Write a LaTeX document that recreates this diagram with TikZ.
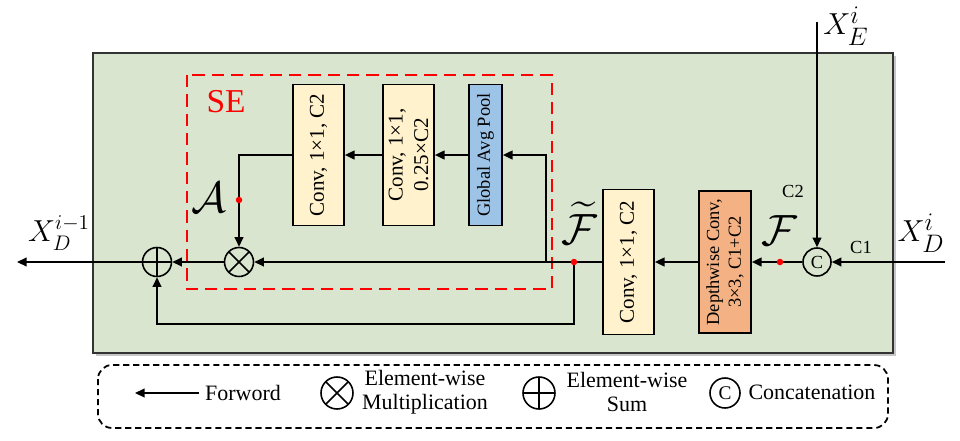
\documentclass[tikz,border=0pt]{standalone}
\usepackage{fontspec}
\setmainfont{Liberation Serif}
\usepackage{amsmath}
\usetikzlibrary{arrows.meta}
\usetikzlibrary{positioning}
\definecolor{blockgreen}{RGB}{217,229,206}
\definecolor{convyellow}{RGB}{255,242,204}
\definecolor{poolblue}{RGB}{157,195,230}
\definecolor{dworange}{RGB}{244,177,131}
\tikzset{
  arr/.style={-{Triangle[length=5.5pt,width=5pt]}, line width=0.9pt},
  convbox/.style={draw, line width=1pt, fill=convyellow, rotate=90, align=center, inner sep=1pt, font=\fontsize{12}{14.5}\selectfont},
  smallbox/.style={convbox, font=\fontsize{10.5}{12.5}\selectfont},
  opnode/.style={circle, draw, line width=0.9pt, inner sep=0pt, minimum size=0.58cm},
  otimes/.style={opnode, path picture={\draw[line width=0.9pt] (path picture bounding box.north west)--(path picture bounding box.south east) (path picture bounding box.north east)--(path picture bounding box.south west);}},
  oplus/.style={opnode, path picture={\draw[line width=0.9pt] (path picture bounding box.north)--(path picture bounding box.south) (path picture bounding box.east)--(path picture bounding box.west);}},
  legtext/.style={align=center, font=\fontsize{12.5}{13.5}\selectfont},
}
\begin{document}
\begin{tikzpicture}[x=0.02cm, y=-0.02cm]
  \useasboundingbox (0,0) rectangle (960,440);
  %block background
  \fill[gray!45] (96,56) rectangle (896,356);
  \draw[fill=blockgreen, line width=1.1pt, draw=black!80] (93,53) rectangle (893,353);
  %SE part
  \draw[red, dashed, dash pattern=on 7pt off 4pt, line width=1.1pt] (187,75) rectangle (552,289);
  \node[red, font=\fontsize{19}{22}\selectfont] (lblSE) at (226,102) {SE};
  \node[convbox, minimum width=2.82cm, minimum height=1.02cm] (convA) at (318.5,155) {Conv, 1×1, C2};
  \node[convbox, minimum width=2.82cm, minimum height=1.02cm] (convB) at (408.5,155) {Conv, 1×1,\\0.25×C2};
  \node[smallbox, fill=poolblue, minimum width=2.82cm, minimum height=0.66cm] (gap) at (485.5,155) {Global Avg Pool};
  %main path
  \node[convbox, minimum width=2.9cm, minimum height=1.02cm] (convC) at (628.5,262) {Conv, 1×1, C2};
  \node[smallbox, fill=dworange, minimum width=2.84cm, minimum height=1.04cm] (dw) at (725,262) {Depthwise Conv,\\3×3, C1+C2};
  \node[opnode, minimum size=0.56cm, font=\fontsize{10.5}{12}\selectfont] (cat) at (817,262) {C};
  \node[otimes] (mul) at (239,262) {};
  \node[oplus] (add) at (157,262) {};
  \coordinate (inD) at (945,262);
  \coordinate (inE) at (817,22);
  \coordinate (out) at (17,262);
  \coordinate (branch) at (546,262);
  \coordinate (dotA) at (239,200);
  \coordinate (dotFt) at (574,262);
  \coordinate (dotF) at (780,262);
  \coordinate (loop) at (574,324);
  %labels
  \node[font=\fontsize{19}{22}\selectfont] (lblXE) at (846,26) {$X_E^i$};
  \node[font=\fontsize{19}{22}\selectfont] (lblXD) at (921,233) {$X_D^i$};
  \node[font=\fontsize{17}{20}\selectfont] (lblOut) at (59,233) {$X_D^{i-1}$};
  \node[font=\fontsize{10.5}{12}\selectfont] (lblC2) at (793,191) {C2};
  \node[font=\fontsize{10.5}{12}\selectfont] (lblC1) at (861,247) {C1};
  \node[font=\fontsize{29}{32}\selectfont] (lblA) at (209,198) {$\mathcal{A}$};
  \node[font=\fontsize{28}{31}\selectfont] (lblF) at (779,231) {$\mathcal{F}$};
  \node[font=\fontsize{28}{31}\selectfont] (lblFt) at (579,223) {$\widetilde{\mathcal{F}}$};
  %connectors
  \draw[arr] (inD) -- (cat);
  \draw[arr] (inE) -- (cat);
  \draw[arr] (cat) -- (dw);
  \draw[arr] (dw) -- (convC);
  \draw[arr] (convC) -- (mul);
  \draw[arr] (branch) |- (gap);
  \draw[arr] (gap) -- (convB);
  \draw[arr] (convB) -- (convA);
  \draw[arr] (convA) -| (mul);
  \draw[arr] (mul) -- (add);
  \draw[arr] (add) -- (out);
  \draw[arr] (dotFt) -- (loop) -| (add);
  \fill[red] (dotA) circle (0.065cm);
  \fill[red] (dotFt) circle (0.065cm);
  \fill[red] (dotF) circle (0.065cm);
  %legend
  \draw[dashed, dash pattern=on 3.5pt off 2.2pt, line width=1pt, rounded corners=0.28cm] (98,365) rectangle (888,428);
  \node[legtext] (lgFwd) at (243,393) {Forword};
  \coordinate (lgEnd) at (135,393);
  \draw[arr] (lgFwd) -- (lgEnd);
  \node[otimes, minimum size=0.64cm] (lgMul) at (337,393) {};
  \node[legtext] (lgMulTxt) at (425,392) {Element-wise\\Multiplication};
  \node[oplus, minimum size=0.64cm] (lgAdd) at (539,393) {};
  \node[legtext] (lgAddTxt) at (627,392) {Element-wise\\Sum};
  \node[opnode, minimum size=0.6cm, font=\fontsize{11}{12}\selectfont] (lgCat) at (725,393) {C};
  \node[legtext] (lgCatTxt) at (812,392) {Concatenation};
\end{tikzpicture}
\end{document}
